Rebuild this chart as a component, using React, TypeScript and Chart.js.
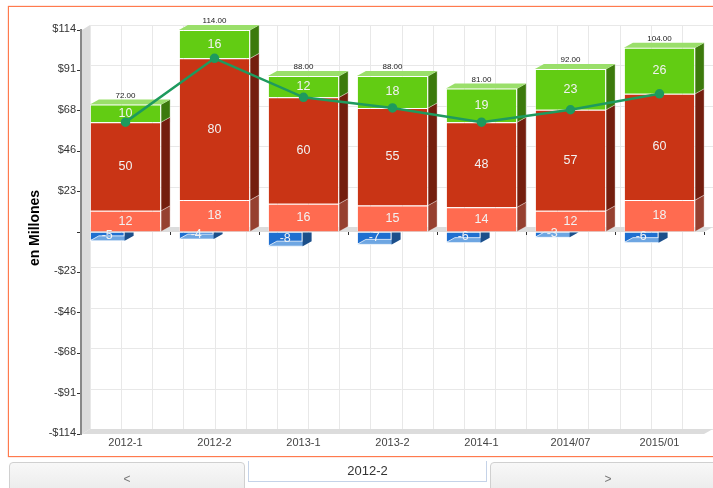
import React, { useEffect, useRef } from "react";
import { Chart, registerables } from "chart.js";

Chart.register(...registerables);

const categories = ["2012-1", "2012-2", "2013-1", "2013-2", "2014-1", "2014/07", "2015/01"];
const negativeValues = [-5, -4, -8, -7, -6, -3, -6];
const baseValues = [12, 18, 16, 15, 14, 12, 18];
const middleValues = [50, 80, 60, 55, 48, 57, 60];
const topValues = [10, 16, 12, 18, 19, 23, 26];
const lineValues = [62, 98, 76, 70, 62, 69, 78];
const totals = ["72.00", "114.00", "88.00", "88.00", "81.00", "92.00", "104.00"];
const yTicks = [-114, -91.2, -68.4, -45.6, -22.8, 0, 22.8, 45.6, 68.4, 91.2, 114];
const yTitle = "en Millones";

const DX = 9;
const DY = -5;
const FONT = "'Liberation Sans', Arial, sans-serif";

const poly = (ctx: CanvasRenderingContext2D, pts: number[][], fill: string, stroke?: string) => {
  ctx.beginPath();
  pts.forEach((p, i) => (i ? ctx.lineTo(p[0], p[1]) : ctx.moveTo(p[0], p[1])));
  ctx.closePath();
  ctx.fillStyle = fill;
  ctx.fill();
  if (stroke) {
    ctx.strokeStyle = stroke;
    ctx.lineWidth = 1;
    ctx.stroke();
  }
};

const threeD = {
  id: "threeD",
  afterDatasetsUpdate(chart: any) {
    const meta = chart.getDatasetMeta(0);
    meta.data.forEach((bar: any) => {
      const full = chart.scales.x.width / categories.length * 0.8;
      bar.x -= (full - bar.width) / 2;
    });
  },
  beforeDatasetsDraw(chart: any) {
    const { ctx, chartArea: a, scales } = chart;
    const y = scales.y;
    const x = scales.x;
    const zero = y.getPixelForValue(0);
    ctx.save();
    // back grid
    ctx.strokeStyle = "#e8e8e8";
    ctx.lineWidth = 1;
    yTicks.forEach((t) => {
      const py = Math.round(y.getPixelForValue(t) + DY) + 0.5;
      ctx.beginPath();
      ctx.moveTo(a.left + DX, py);
      ctx.lineTo(a.right + DX, py);
      ctx.stroke();
    });
    const cols = 20;
    for (let i = 0; i <= cols; i++) {
      const px = Math.round(a.left + DX + ((a.right - a.left) / cols) * i) + 0.5;
      ctx.beginPath();
      ctx.moveTo(px, a.top + DY);
      ctx.lineTo(px, a.bottom + DY);
      ctx.stroke();
    }
    // walls and floors
    poly(ctx, [[a.left + 1, a.top], [a.left + DX, a.top + DY], [a.left + DX, a.bottom + DY], [a.left + 1, a.bottom]], "#dcdcdc");
    poly(ctx, [[a.left + 1, a.bottom], [a.left + DX, a.bottom + DY], [a.right + DX, a.bottom + DY], [a.right, a.bottom]], "#dcdcdc");
    poly(ctx, [[a.left + 1, zero], [a.left + DX, zero + DY], [a.right + DX, zero + DY], [a.right, zero]], "#dcdcdc");
    // zero-line ticks at category boundaries
    ctx.strokeStyle = "#333";
    ctx.lineWidth = 1;
    categories.forEach((_, i) => {
      const px = Math.round(x.getPixelForTick(i) + x.width / categories.length / 2) + 0.5;
      ctx.beginPath();
      ctx.moveTo(px, zero);
      ctx.lineTo(px, zero + 3);
      ctx.stroke();
    });
    // side and top faces of the positive stacks
    const sides = ["", "#964030", "#741e0e", "#3c7a0c"];
    [1, 2, 3].forEach((d) => {
      chart.getDatasetMeta(d).data.forEach((bar: any) => {
        const r = bar.x + bar.width / 2;
        const t = Math.min(bar.y, bar.base);
        const b = Math.max(bar.y, bar.base);
        poly(ctx, [[r, t], [r + DX, t + DY], [r + DX, b + DY], [r, b]], sides[d], "rgba(255,255,255,0.35)");
        if (d === 3) {
          const l = bar.x - bar.width / 2;
          poly(ctx, [[l, t], [l + DX, t + DY], [r + DX, t + DY], [r, t]], "#9adf6a");
        }
      });
    });
    ctx.restore();
  },
  afterDatasetDraw(chart: any, args: any) {
    if (args.index !== 0) return;
    const { ctx } = chart;
    ctx.save();
    args.meta.data.forEach((bar: any) => {
      const l = bar.x - bar.width / 2;
      const r = bar.x + bar.width / 2;
      poly(ctx, [[l, bar.y], [l + DX, bar.y + DY], [r + DX, bar.y + DY], [r, bar.y]], "#6ea6e2", "rgba(255,255,255,0.75)");
      poly(ctx, [[r, bar.base], [r + DX, bar.base], [r + DX, bar.y + DY], [r, bar.y]], "#1c4f8a");
    });
    ctx.restore();
  },
  afterDatasetsDraw(chart: any) {
    const { ctx, chartArea: a } = chart;
    ctx.save();
    ctx.textAlign = "center";
    ctx.textBaseline = "middle";
    ctx.fillStyle = "#f2f2f2";
    ctx.font = `12.5px ${FONT}`;
    [0, 1, 2, 3].forEach((d) => {
      chart.getDatasetMeta(d).data.forEach((bar: any, i: number) => {
        const v = chart.data.datasets[d].data[i];
        ctx.fillText(String(v), bar.x, (bar.y + bar.base) / 2 + (d === 0 ? -1 : 0));
      });
    });
    ctx.fillStyle = "#222";
    ctx.font = `8px ${FONT}`;
    chart.getDatasetMeta(3).data.forEach((bar: any, i: number) => {
      ctx.fillText(totals[i], bar.x, bar.y - 9);
    });
    // y-axis title
    ctx.translate(35, (a.top + a.bottom) / 2 - 4);
    ctx.rotate(-Math.PI / 2);
    ctx.fillStyle = "#000";
    ctx.font = `bold 14px ${FONT}`;
    ctx.fillText(yTitle, 0, 0);
    ctx.restore();
  },
};

const btn: React.CSSProperties = {
  position: "absolute",
  top: 462,
  height: 40,
  width: 236,
  boxSizing: "border-box",
  border: "1px solid #d0d0d0",
  borderRadius: 4,
  background: "linear-gradient(#f8f8f8,#e6e6e6)",
  color: "#777",
  font: `12px ${FONT}`,
  textAlign: "center",
  paddingTop: 9,
};

export default function App() {
  const ref = useRef<HTMLCanvasElement>(null);
  useEffect(() => {
    const chart = new Chart(ref.current!, {
      type: "bar",
      data: {
        labels: categories,
        datasets: [
          { label: "Negativo", data: negativeValues, backgroundColor: "#1f6fd0", borderColor: "rgba(255,255,255,0.6)", borderWidth: 1, barPercentage: 0.39, categoryPercentage: 1, order: 1 },
          { label: "Base", data: baseValues, backgroundColor: "#ff6b50", borderColor: "rgba(255,255,255,0.5)", borderWidth: 1, barPercentage: 0.8, categoryPercentage: 1, order: 1 },
          { label: "Medio", data: middleValues, backgroundColor: "#c93415", borderColor: "rgba(255,255,255,0.5)", borderWidth: 1, barPercentage: 0.8, categoryPercentage: 1, order: 1 },
          { label: "Alto", data: topValues, backgroundColor: "#62cc13", borderColor: "rgba(255,255,255,0.5)", borderWidth: 1, barPercentage: 0.8, categoryPercentage: 1, order: 1 },
          { type: "line", label: "Neto", data: lineValues, stack: "line", borderColor: "#1e9a5e", backgroundColor: "#1e9a5e", borderWidth: 2.5, pointRadius: 3.5, pointHoverRadius: 3.5, tension: 0, order: 0 },
        ] as any,
      },
      options: {
        responsive: false,
        animation: false,
        layout: { padding: { left: 0, top: 30, right: 9, bottom: 34 } },
        plugins: { legend: { display: false }, tooltip: { enabled: false } },
        scales: {
          x: {
            stacked: true,
            grid: { display: false, drawTicks: false },
            border: { display: false },
            ticks: { color: "#444", font: { size: 11, family: FONT }, padding: 2, maxRotation: 0, autoSkip: false },
            afterFit: (s: any) => { s.height = 20; },
          },
          y: {
            stacked: true,
            min: -114,
            max: 114,
            afterBuildTicks: (s: any) => { s.ticks = yTicks.map((value) => ({ value })); },
            grid: { drawOnChartArea: false, drawTicks: true, tickLength: 4, color: "#333" },
            border: { color: "#888", width: 2 },
            ticks: {
              color: "#333",
              padding: 1,
              labelOffset: -1,
              font: { size: 11, family: FONT },
              callback: (v: any) => {
                const n = Math.round(Number(v));
                if (n === 0) return "";
                return (n < 0 ? "-$" : "$") + Math.abs(n);
              },
            },
            afterFit: (s: any) => { s.width = 81; },
          },
        },
      },
      plugins: [threeD],
    } as any);
    return () => chart.destroy();
  }, []);

  return (
    <div style={{ position: "fixed", inset: 0, overflow: "hidden", background: "#fff" }}>
      <div style={{ position: "absolute", left: 8, top: 6, width: 760, height: 451, boxSizing: "border-box", border: "1px solid #ff7a4d", boxShadow: "0 0 1px #ff7a4d" }} />
      <canvas ref={ref} width={713} height={488} style={{ position: "absolute", left: 0, top: 0, display: "block" }} />
      <div style={{ ...btn, left: 9 }}>&lt;</div>
      <div style={{ position: "absolute", left: 248, top: 461, width: 239, height: 21, boxSizing: "border-box", borderLeft: "1px solid #c5d3e8", borderRight: "1px solid #c5d3e8", borderBottom: "1px solid #c5d3e8", textAlign: "center", font: `13px ${FONT}`, color: "#333", lineHeight: "19px" }}>2012-2</div>
      <div style={{ ...btn, left: 490 }}>&gt;</div>
    </div>
  );
}
